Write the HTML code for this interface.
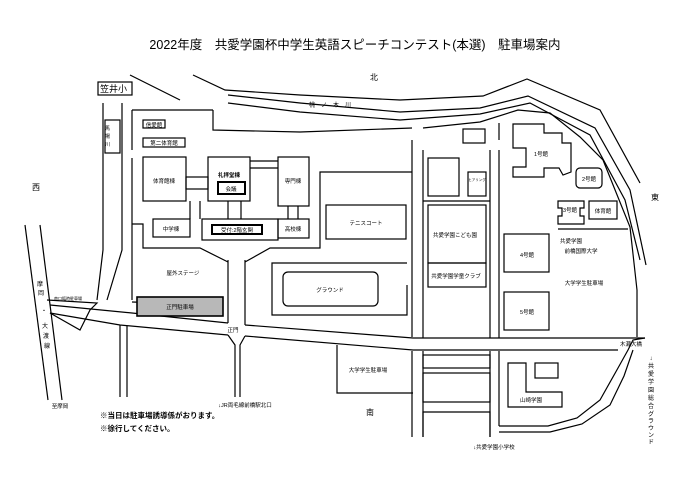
<!DOCTYPE html>
<html><head><meta charset="utf-8"><style>
body{margin:0;background:#fff}
svg{display:block}
text{font-family:"Liberation Sans","Noto Sans CJK JP",sans-serif;fill:#000}
</style></head><body>
<svg width="700" height="495" viewBox="0 0 700 495" xmlns="http://www.w3.org/2000/svg">
<g fill="none" stroke="#000" stroke-width="1.2">
<polyline points="130,75 180,100"/>
<polyline points="193,75 225,90 300,95 400,100 483,96 527,79 600,110 640,183"/>
<polyline points="213,110 213,130 300,132 412,128"/>
<polyline points="228,95 300,103 400,112 480,108 528,96 595,128 630,190 646,265"/>
<polyline points="228,103 300,112 400,120 480,114 530,103 590,135 625,200 640,260"/>
<polyline points="423,128 480,122 518,110 550,113 580,137 603,160 630,227 637,290 637,337"/>
<polyline points="499,123 499,140"/>
<polyline points="103,103 103,250 97,300"/>
<polyline points="122,103 122,250 107,300"/>
<rect x="105" y="120" width="15" height="33"/>
<polyline points="132,110 132,150"/><polyline points="132,158 132,300"/>
<polyline points="132,110 213,110"/>
<polyline points="25,225 48,400"/><polyline points="40,225 62,400"/>
<polyline points="47,300 97,303 90,310 80,330 50,313"/>
<polyline points="50,305 132,313 228,323"/>
<polyline points="245,325 413,338 645,338"/>
<polyline points="50,313 120,325 228,335"/>
<polyline points="245,336 413,350 618,350"/>
<polyline points="120,325 120,397"/><polyline points="127,326 127,397"/>
<polyline points="228,335 235,345 235,397"/><polyline points="245,336 240,345 240,397"/>
<polyline points="228,260 228,323"/><polyline points="245,260 245,325"/>
<rect x="143" y="120" width="22" height="8"/>
<rect x="143" y="138" width="42" height="9"/>
<rect x="143" y="157" width="43" height="44"/>
<rect x="186" y="177" width="22" height="12"/>
<rect x="208" y="157" width="42" height="44"/>
<rect x="218" y="182" width="27" height="12" stroke-width="2"/>
<polyline points="250,161 278,161"/><polyline points="250,168 278,168"/>
<rect x="278" y="157" width="31" height="49"/>
<rect x="153" y="219" width="37" height="18"/>
<rect x="202" y="219" width="76" height="21"/>
<rect x="212" y="225" width="50" height="9" stroke-width="2"/>
<rect x="278" y="219" width="31" height="19"/>
<line x1="190" y1="201" x2="190" y2="219"/><line x1="200" y1="201" x2="200" y2="219"/>
<line x1="228" y1="201" x2="228" y2="219"/><line x1="241" y1="201" x2="241" y2="219"/>
<line x1="288" y1="206" x2="288" y2="219"/><line x1="298" y1="206" x2="298" y2="219"/>
<polyline points="132,224 143,224 143,248 200,248 228,262"/>
<polyline points="245,262 270,248 320,248 320,172 412,172"/>
<rect x="326" y="205" width="80" height="34"/>
<polyline points="407,263 272,263 272,315 407,315 407,285"/>
<rect x="283" y="272" width="95" height="34" rx="5"/>
<polyline points="132,302 223,305"/>
<line x1="412" y1="140" x2="412" y2="337"/><line x1="423" y1="150" x2="423" y2="338"/>
<line x1="490" y1="150" x2="490" y2="338"/><line x1="499" y1="150" x2="499" y2="338"/>
<line x1="412" y1="351" x2="412" y2="437"/><line x1="423" y1="351" x2="423" y2="437"/>
<line x1="490" y1="351" x2="490" y2="437"/><line x1="499" y1="351" x2="499" y2="426"/>
<line x1="423" y1="201" x2="490" y2="201"/>
<rect x="463" y="129" width="22" height="14"/>
<rect x="428" y="158" width="31" height="38"/>
<rect x="468" y="172" width="18" height="24"/>
<rect x="428" y="205" width="58" height="58"/>
<rect x="428" y="263" width="58" height="24"/>
<polygon points="513,124 544,124 544,133 562,133 562,143 571,143 571,172 563,175 559,168 544,168 544,177 513,177 513,167 526,167 526,148 513,148"/>
<rect x="576" y="168" width="26" height="20" rx="4"/>
<polygon points="558,201 584,201 584,208 580,208 580,216 584,216 584,224 558,224 558,216 562,216 562,208 558,208"/>
<rect x="589" y="201" width="28" height="18"/>
<polyline points="558,229 628,229"/>
<rect x="504" y="234" width="45" height="38"/>
<rect x="504" y="292" width="45" height="38"/>
<polyline points="645,338 633,340 628,350 618,368 600,400 577,418 548,426 499,426"/>
<polyline points="633,350 624,376 610,405 582,424 550,432 499,432"/>
<rect x="423" y="355" width="67" height="13"/><rect x="423" y="373" width="67" height="29"/>
<polyline points="423,437 423,412 490,412 490,437"/>
<polygon points="508,363 526,363 526,392 562,392 562,407 508,407"/>
<rect x="535" y="363" width="23" height="15"/>
<polyline points="337,345 337,393 413,393"/>
<rect x="98" y="82" width="34" height="13"/>
</g>
<rect x="137" y="297" width="86" height="19" fill="#b8b8b8" stroke="#000" stroke-width="1.6"/>
<text x="355" y="49" font-size="12.5" text-anchor="middle">2022年度　共愛学園杯中学生英語スピーチコンテスト(本選)　駐車場案内</text>
<g font-size="8">
<text x="370" y="80">北</text><text x="651" y="200">東</text><text x="32" y="190">西</text><text x="366" y="415">南</text>
<text x="100" y="92" font-size="9">笠井小</text>
<text x="309" y="107" font-size="6">桃　ノ　木　川</text>
<text x="105" y="130" font-size="5">馬</text><text x="105" y="138" font-size="5">場</text><text x="105" y="146" font-size="5">川</text>
</g>
<g font-size="5.5" text-anchor="middle">
<text x="154" y="127">信愛館</text><text x="164" y="145">第二体育館</text>
<text x="164" y="183">体育館棟</text><text x="229" y="177" font-weight="bold">礼拝堂棟</text>
<text x="231" y="191">会議</text><text x="293" y="183">専門棟</text>
<text x="171" y="231">中学棟</text><text x="237" y="232">受付:2階玄関</text><text x="293" y="231">高校棟</text>
<text x="366" y="225">テニスコート</text><text x="330" y="292">グラウンド</text>
<text x="183" y="275">屋外ステージ</text><text x="180" y="309">正門駐車場</text>
<text x="233" y="332">正門</text>
<text x="68" y="300" font-size="4" fill="#555">南口臨時駐車場</text>
<text x="60" y="408">至摩岡</text>
<text x="455" y="237">共愛学園こども園</text><text x="456" y="278">共愛学園学童クラブ</text>
<text x="477" y="181" font-size="3.5">ヒアリング</text>
<text x="541" y="156">1号館</text><text x="589" y="181">2号館</text>
<text x="570" y="212">3号館</text><text x="603" y="213">体育館</text>
<text x="527" y="257">4号館</text><text x="527" y="314">5号館</text>
<text x="571" y="243">共愛学園</text><text x="581" y="253">前橋国際大学</text>
<text x="584" y="285">大学学生駐車場</text>
<text x="368" y="372">大学学生駐車場</text>
<text x="631" y="346">木瀬大橋</text>
<text x="531" y="402">山崎学園</text>
<text x="494" y="449">↓共愛学園小学校</text>
<text x="245" y="407">↓JR両毛線前橋駅北口</text>
</g>
<g font-size="6" text-anchor="middle">
<text x="40" y="286">摩</text><text x="41" y="295">岡</text><text x="44" y="313">・</text>
<text x="45" y="328">大</text><text x="46" y="338">渡</text><text x="47" y="348">線</text>
<text x="651" y="360">↓</text><text x="651" y="368">共</text><text x="651" y="376">愛</text><text x="651" y="384">学</text><text x="651" y="392">園</text><text x="651" y="400">総</text><text x="651" y="408">合</text><text x="651" y="416">グ</text><text x="651" y="423">ラ</text><text x="651" y="430">ウ</text><text x="651" y="437">ン</text><text x="651" y="444">ド</text>
</g>
<g font-size="7.5" font-weight="bold">
<text x="100" y="418">※当日は駐車場誘導係がおります。</text>
<text x="100" y="431">※徐行してください。</text>
</g>
</svg>
</body></html>
